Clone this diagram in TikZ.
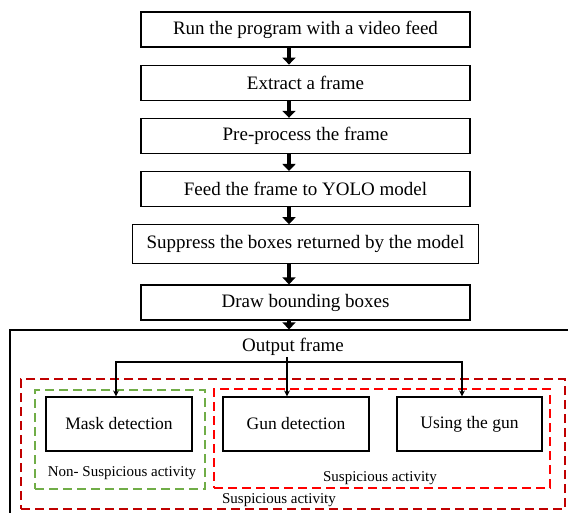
\documentclass[tikz,border=0pt]{standalone}
\usepackage{fontspec}
\setmainfont{Liberation Serif}
\usetikzlibrary{arrows.meta,positioning,calc}
\definecolor{darkred}{HTML}{C00000}
\definecolor{grpgreen}{HTML}{70AD47}

\begin{document}
\begin{tikzpicture}[x=1pt, y=-1pt,
    node distance=17pt,
    process/.style={rectangle, draw, line width=1.2pt, minimum width=329pt, minimum height=35pt,
                    inner sep=2pt, font=\fontsize{19}{21}\selectfont},
    detect/.style={rectangle, draw, line width=1.2pt, minimum width=146pt, minimum height=54pt,
                   font=\fontsize{17.5}{19}\selectfont},
    grp/.style={rectangle, draw, dash pattern=on 9pt off 5pt, line width=2.2pt, inner sep=0pt},
    grplabel/.style={font=\fontsize{15}{17}\selectfont, inner sep=1pt},
    flowarrow/.style={-{Triangle[width=13pt,length=7pt]}, line width=4.5pt},
    branch/.style={-{Stealth[width=6pt,length=6pt]}, line width=1.8pt}
]
\useasboundingbox (0,0) rectangle (568,513);
\node[process] (run) at (305.5,29.5) {Run the program with a video feed};
\node[process, below=of run] (extract) {Extract a frame};
\node[process, below=of extract] (prep) {Pre-process the frame};
\node[process, below=of prep] (feed) {Feed the frame to YOLO model};
\node[process, below=of feed, minimum width=346pt, minimum height=39pt] (suppress) {Suppress the boxes returned by the model};
\node[process, below=20pt of suppress] (drawbox) {Draw bounding boxes};
\node[rectangle, draw, line width=1.2pt, minimum width=570pt, minimum height=195pt] (outer) at (295,427.5) {};

\coordinate (ax) at (289,0);
\foreach \a/\b in {run/extract, extract/prep, prep/feed, feed/suppress, suppress/drawbox, drawbox/outer}
  \draw[flowarrow] (\a.south -| ax) -- (\b.north -| ax);

\node[grp, draw=darkred, minimum width=544pt, minimum height=130pt] (allgrp) at (293,444) {};
\node[grp, draw=grpgreen, minimum width=170pt, minimum height=99pt] (nonsusp) at (120,439.5) {};
\node[grp, draw=red, minimum width=336pt, minimum height=99pt] (susp) at (382,438.5) {};

\node[detect] (mask) at (119,424) {Mask detection};
\node[detect] (gun) at (296,424) {Gun detection};
\node[detect, minimum width=145pt] (usegun) at (469.5,424) {Using the gun};

\node[grplabel] (nonsusplbl) at (122,473) {Non- Suspicious activity};
\node[grplabel] (susplbl) at (380,478) {Suspicious activity};
\node[grplabel] (alllbl) at (279,500) {Suspicious activity};

\node[font=\fontsize{19}{21}\selectfont, inner sep=1pt] (outframe) at (293,347) {Output frame};
\coordinate (hub) at (287,362);
\coordinate (mx) at (116,0);
\coordinate (ux) at (462,0);
\draw[branch] (outframe.south -| hub) -- (gun.north -| hub);
\draw[branch] (hub) -| (mask.north -| mx);
\draw[branch] (hub) -| (usegun.north -| ux);
\end{tikzpicture}
\end{document}
